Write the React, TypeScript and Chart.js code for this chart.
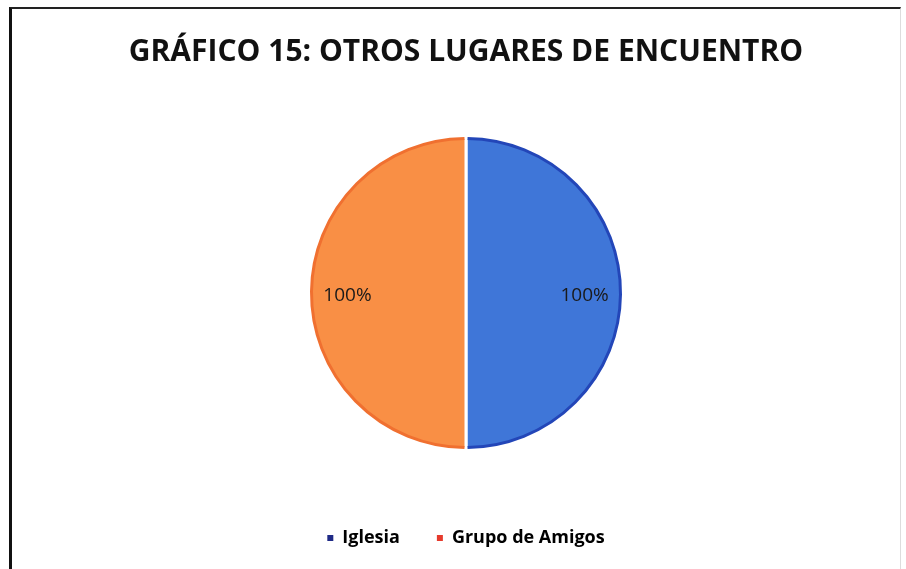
import React, { useEffect, useRef } from "react";
import { Chart, registerables } from "chart.js";

Chart.register(...registerables);

const TITLE = "GRÁFICO 15: OTROS LUGARES DE ENCUENTRO";
const categories = ["Iglesia", "Grupo de Amigos"];
const values = [100, 100];
const valueLabels = ["100%", "100%"];
const sliceColors = ["#3f76d8", "#f98f45"];
const edgeColors = ["#2346b8", "#f07030"];
const legendColors = ["#1f2a86", "#e63a2c"];

const W = 906;
const H = 569;

const edgePlugin = {
  id: "edgeStroke",
  afterDatasetsDraw(chart: any) {
    const meta = chart.getDatasetMeta(0);
    const ctx = chart.ctx;
    ctx.save();
    meta.data.forEach((arc: any, i: number) => {
      const { x, y, startAngle, endAngle, outerRadius } = arc.getProps(
        ["x", "y", "startAngle", "endAngle", "outerRadius"],
        true
      );
      ctx.beginPath();
      ctx.arc(x, y, outerRadius - 1.5, startAngle + 0.01, endAngle - 0.01);
      ctx.strokeStyle = edgeColors[i];
      ctx.lineWidth = 3;
      ctx.stroke();
    });
    ctx.restore();
  },
};

const labelPlugin = {
  id: "sliceLabels",
  afterDatasetsDraw(chart: any) {
    const meta = chart.getDatasetMeta(0);
    const ctx = chart.ctx;
    ctx.save();
    ctx.font = "19px 'Open Sans', sans-serif";
    ctx.fillStyle = "#1a1a1a";
    ctx.textAlign = "center";
    ctx.textBaseline = "middle";
    meta.data.forEach((arc: any, i: number) => {
      const { x, y, startAngle, endAngle, outerRadius } = arc.getProps(
        ["x", "y", "startAngle", "endAngle", "outerRadius"],
        true
      );
      const mid = (startAngle + endAngle) / 2;
      const d = outerRadius * 0.76;
      ctx.fillText(valueLabels[i], x + Math.cos(mid) * d, y + Math.sin(mid) * d + 3);
    });
    ctx.restore();
  },
};

export default function App() {
  const ref = useRef<HTMLCanvasElement | null>(null);

  useEffect(() => {
    if (!ref.current) return;
    const chart = new Chart(ref.current, {
      type: "pie",
      data: {
        labels: categories,
        datasets: [
          {
            data: values,
            backgroundColor: sliceColors,
            borderColor: "#ffffff",
            borderWidth: 3,
            radius: 156,
          },
        ],
      },
      options: {
        responsive: false,
        animation: false,
        layout: { padding: { left: 26, right: 0, top: 0, bottom: 12 } },
        plugins: {
          tooltip: { enabled: false },
          title: {
            display: true,
            text: TITLE,
            color: "#111111",
            font: { family: "'Open Sans', sans-serif", size: 30, weight: "bold" },
            padding: { top: 34, bottom: 24 },
          },
          legend: {
            display: true,
            position: "bottom",
            labels: {
              boxWidth: 6,
              boxHeight: 6,
              padding: 37,
              color: "#111111",
              font: { family: "'Open Sans', sans-serif", size: 18, weight: "bold" },
              generateLabels: () =>
                categories.map((c, i) => ({
                  text: c,
                  fillStyle: legendColors[i],
                  strokeStyle: legendColors[i],
                  lineWidth: 0,
                  hidden: false,
                  index: i,
                  datasetIndex: 0,
                })),
            },
          },
        },
      },
      plugins: [edgePlugin, labelPlugin],
    });
    return () => chart.destroy();
  }, []);

  return (
    <div
      style={{
        position: "fixed",
        left: 0,
        top: 0,
        width: W,
        height: H,
        background: "#ffffff",
        overflow: "hidden",
      }}
    >
      <canvas ref={ref} width={W} height={H} style={{ display: "block" }} />
      <div
        style={{
          position: "absolute",
          left: 9,
          top: 7,
          right: 5,
          bottom: -10,
          borderLeft: "3px solid #111",
          borderTop: "2px solid #222",
          borderRight: "1px solid #dddddd",
          pointerEvents: "none",
        }}
      />
    </div>
  );
}
